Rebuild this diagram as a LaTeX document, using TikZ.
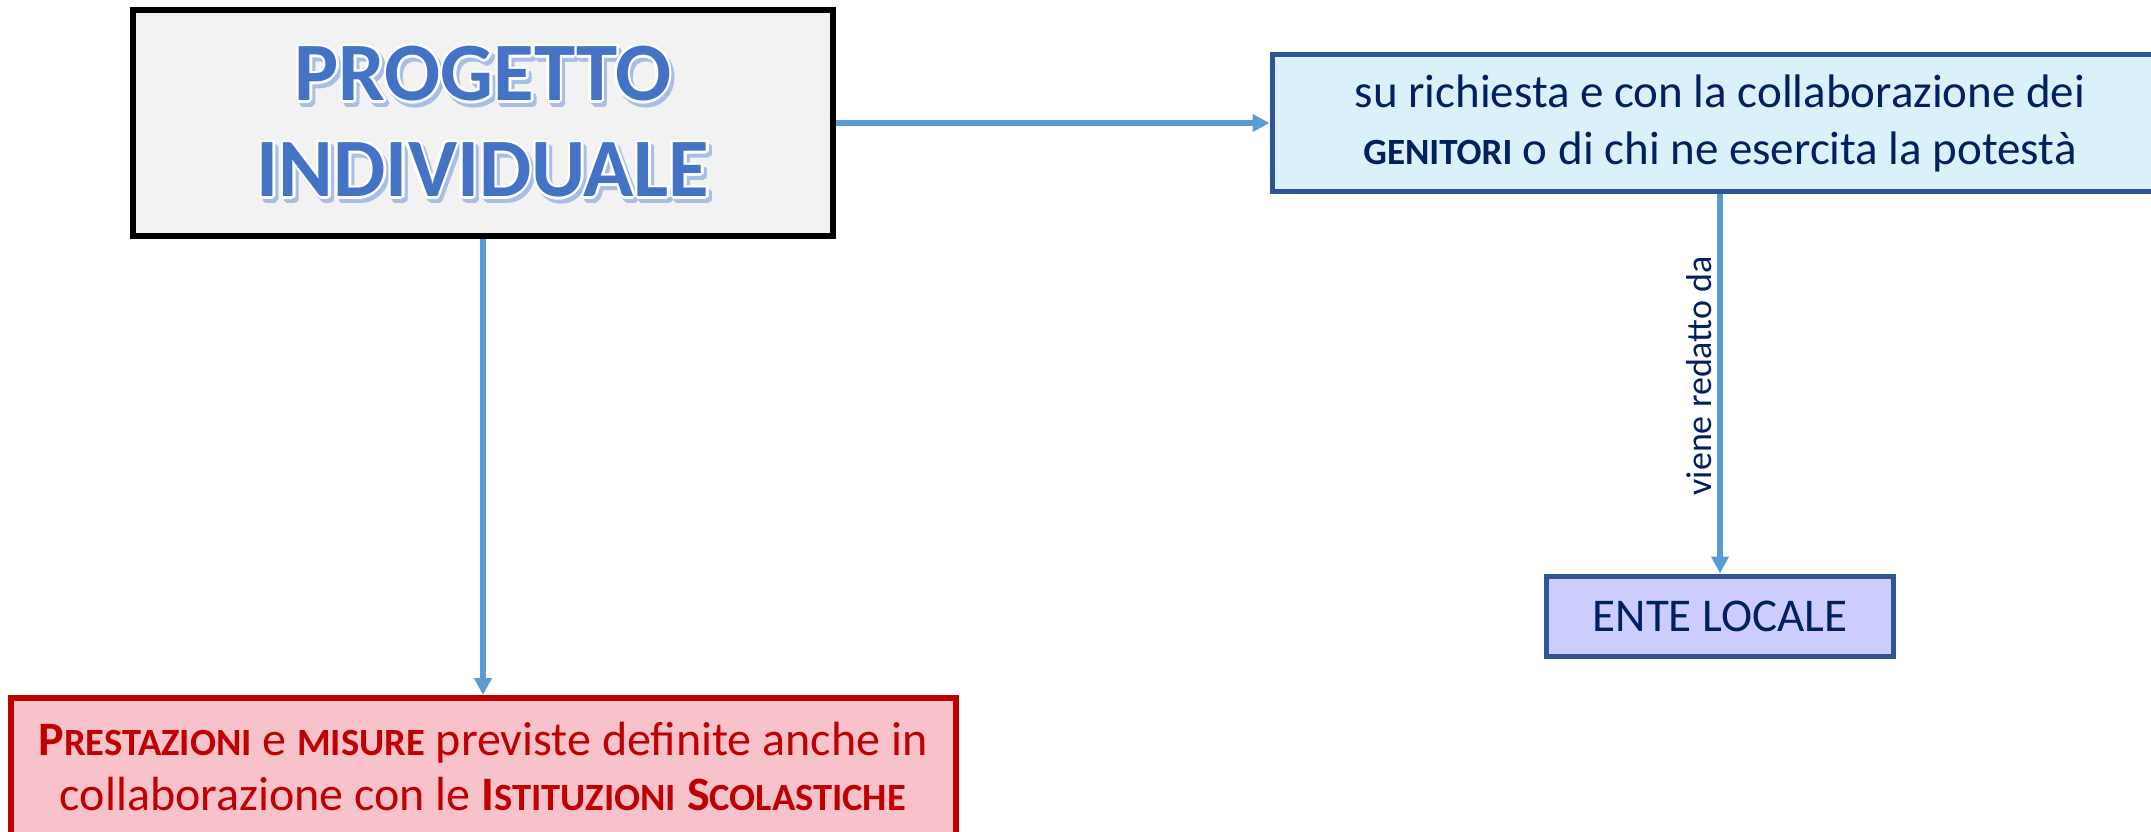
\documentclass[tikz,border=0pt]{standalone}
\usepackage{fontspec}
\setmainfont{Carlito}
\usepackage{contour}
\usetikzlibrary{arrows.meta}

\definecolor{arrowblue}{HTML}{5B9BD5}
\definecolor{navy}{HTML}{002060}
\definecolor{boxblue}{HTML}{2F5597}
\definecolor{skyfill}{HTML}{DAF0FA}
\definecolor{lavfill}{HTML}{CCCCFF}
\definecolor{pinkfill}{HTML}{F8C2CB}
\definecolor{darkred}{HTML}{C00000}
\definecolor{titleblue}{HTML}{4472C4}
\definecolor{shadeblue}{HTML}{A9BEE6}
\definecolor{paper}{HTML}{F2F2F2}

% bold small capitals imitated with reduced capitals
\newcommand\smc[2][37]{{\fontsize{#1}{56}\selectfont #2}}
\contourlength{2.5pt}
\contournumber{12}

\begin{document}
\begin{tikzpicture}[x=1pt,y=-1pt,
  link/.style={draw=arrowblue, line width=6pt,
    -{Triangle[length=17pt,width=17pt]}},
  titlebox/.style={draw=black, line width=6pt, fill=paper, inner sep=0pt},
  titletext/.style={font=\fontsize{83}{96}\selectfont\bfseries, align=center,
    text=titleblue, inner sep=0pt},
  askbox/.style={draw=boxblue, line width=5pt, fill=skyfill, text=navy,
    align=center, font=\fontsize{47}{57}\selectfont, inner sep=0pt},
  entebox/.style={draw=boxblue, line width=5pt, fill=lavfill, text=navy,
    font=\fontsize{47}{57}\selectfont, inner sep=0pt},
  redbox/.style={draw=darkred, line width=6pt, fill=pinkfill, text=darkred,
    align=center, font=\fontsize{48}{55}\selectfont, inner sep=0pt},
  linklabel/.style={font=\fontsize{36}{44}\selectfont, text=navy,
    rotate=90, anchor=south, inner sep=5pt}]

\useasboundingbox (0,0) rectangle (2151,832);
\clip (0,0) rectangle (2151,832);

% main title box
\node[titlebox, minimum width=700pt, minimum height=226pt] (proj) at (483,123) {};
\node[titletext, text=shadeblue] (projshade) at (486,127)
  {\contour{shadeblue}{PROGETTO}\\\contour{shadeblue}{INDIVIDUALE}};
\node[titletext] (projtext) at (483,123)
  {\contour{white}{PROGETTO}\\\contour{white}{INDIVIDUALE}};

% request box, running off the right edge
\node[askbox, minimum width=896pt, minimum height=136pt] (req) at (1720,123)
  {su richiesta e con la collaborazione dei\\
   \textbf{\smc{GENITORI}} o di chi ne esercita la potestà};

% local authority
\node[entebox, minimum width=347pt, minimum height=80pt] (ente) at (1720,616)
  {ENTE LOCALE};

% services box, running off the bottom edge
\node[redbox, minimum width=945pt, minimum height=138pt] (prest) at (483,767)
  {\textbf{P\smc[38.5]{RESTAZIONI}} e \textbf{\smc[38.5]{MISURE}} previste definite anche in\\
   collaborazione con le \textbf{I\smc[38.5]{STITUZIONI}} \textbf{S\smc[38.5]{COLASTICHE}}};

% connectors
\draw[link] (proj.east) -- (req.west);
\draw[link] (proj.south) -- (prest.north);
\draw[link] (req.south) -- node[linklabel, pos=0.48] {viene redatto da} (ente.north);

\end{tikzpicture}
\end{document}
